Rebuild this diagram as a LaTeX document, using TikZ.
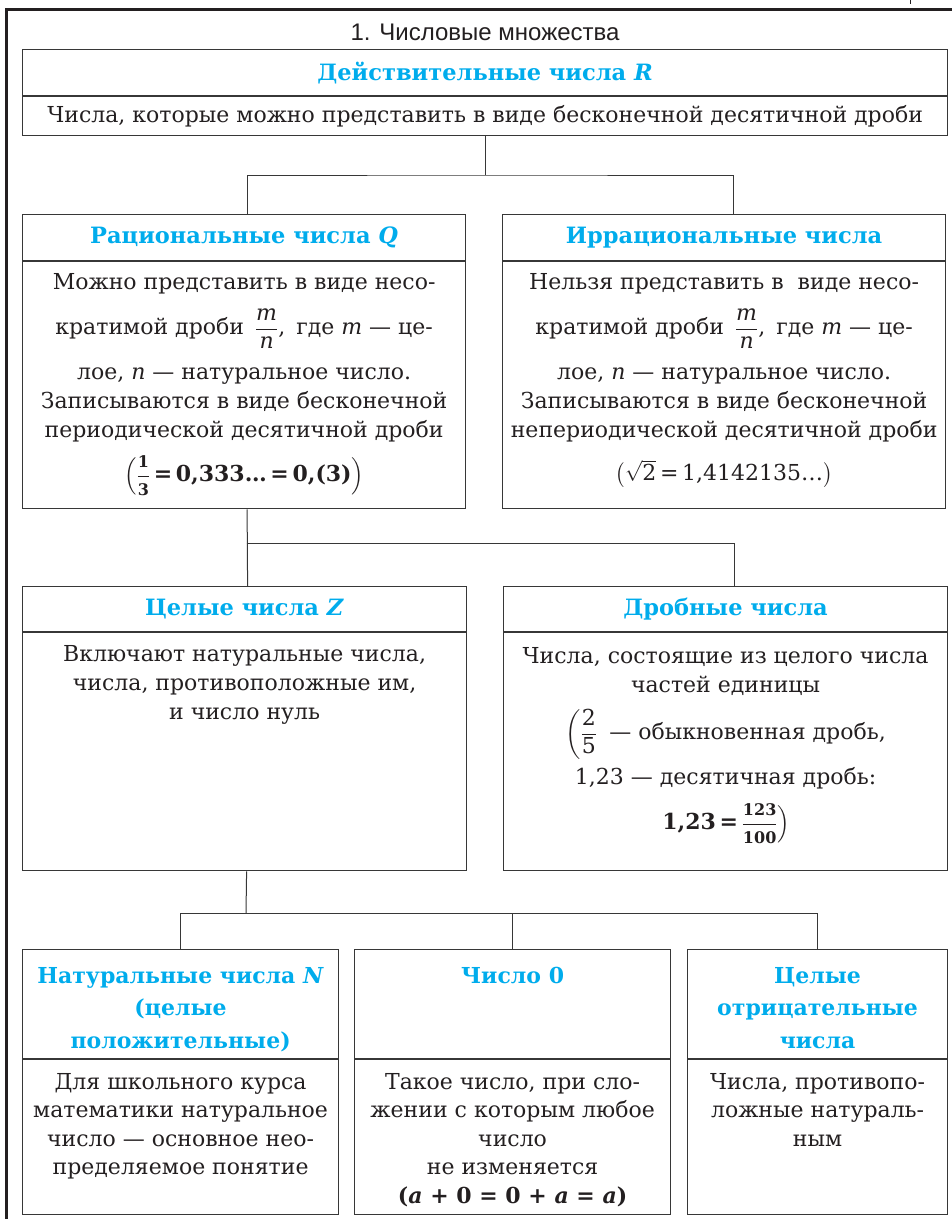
\documentclass[tikz,border=0pt]{standalone}
\usepackage{amsmath}
\usepackage{fontspec}
\setmainfont{DejaVu Serif}
\newfontfamily\titlefont{Liberation Sans}
\usetikzlibrary{calc}
\definecolor{hblue}{RGB}{0,172,236}
\definecolor{ink}{RGB}{35,31,32}
\definecolor{linec}{RGB}{55,55,55}
\newcommand\bodyfs{\fontsize{22}{29}\selectfont\lineskiplimit=-200pt\relax}
\newcommand\bodyfsb{\fontsize{22}{28.5}\selectfont\lineskiplimit=-200pt\relax}
\newcommand\hdrfs{\fontsize{22.5}{32}\selectfont\bfseries}
\newcommand\hdrsm{\fontsize{22}{32.5}\selectfont\bfseries}
\newcommand\smnum[1]{\text{\fontsize{16}{16}\selectfont #1}}
\tikzset{
  hbox/.style={draw=linec, line width=1.2pt, inner sep=0pt, anchor=north west, font=\hdrfs, text=hblue, align=center},
  bbox/.style={draw=linec, line width=1.2pt, inner sep=0pt, anchor=north west, font=\bodyfs, text=ink, align=center},
  txt/.style={inner sep=0pt, anchor=north, align=center, font=\bodyfs, text=ink},
  txtb/.style={inner sep=0pt, anchor=north, align=center, font=\bodyfsb, text=ink},
  htxt/.style={inner sep=0pt, anchor=north, align=center, font=\hdrsm, text=hblue},
  conn/.style={draw=linec, line width=1pt},
}
\begin{document}
\begin{tikzpicture}[x=1pt,y=-1pt]
\useasboundingbox (0,0) rectangle (952,1219);
% outer frame
\draw[ink, line width=3pt, line join=miter] (6,1219) -- (6,9) -- (952,9);
\draw[ink, line width=1pt] (910,0) -- (910,4);
\node[font=\titlefont\fontsize{24}{28}\selectfont, text=ink, inner sep=0pt] (title) at (485,32) {1. Числовые множества};

% Real numbers
\node[hbox, minimum width=925pt, minimum height=46pt] (rh) at (22,49) {Действительные числа \textit{R}};
\node[bbox, minimum width=925pt, minimum height=39pt] (rb) at (rh.south west) {Числа, которые можно представить в виде бесконечной десятичной дроби};

% Rational
\node[hbox, minimum width=443pt, minimum height=46pt] (qh) at (22,214) {Рациональные числа \textit{Q}};
\node[bbox, minimum width=443pt, minimum height=247pt] (qb) at (qh.south west) {};
\node[txt] (qt) at ([yshift=-12pt]qb.north) {Можно представить в виде несо-\\[16pt]
кратимой дроби\enspace$\dfrac{\text{\itshape m}}{\text{\itshape n}}$,\enspace где \textit{m} — це-\\[16pt]
лое, \textit{n} — натуральное число.\\
Записываются в виде бесконечной\\
периодической десятичной дроби\\[15pt]
{\bfseries$\left(\dfrac{\smnum{1}}{\smnum{3}}\text{\,=\,0,333…\,=\,0,(3)}\right)$}};

% Irrational
\node[hbox, minimum width=443pt, minimum height=46pt] (ih) at (502,214) {Иррациональные числа};
\node[bbox, minimum width=443pt, minimum height=247pt] (ib) at (ih.south west) {};
\node[txt] (it) at ([yshift=-12pt]ib.north) {Нельзя представить в \ виде несо-\\[16pt]
кратимой дроби\enspace$\dfrac{\text{\itshape m}}{\text{\itshape n}}$,\enspace где \textit{m} — це-\\[16pt]
лое, \textit{n} — натуральное число.\\
Записываются в виде бесконечной\\
непериодической десятичной дроби\\[14pt]
$\bigl(\sqrt{\text{2}}\text{\,=\,1,4142135…}\bigr)$};

% Integers
\node[hbox, minimum width=444pt, minimum height=45pt] (zh) at (22,586) {Целые числа \textit{Z}};
\node[bbox, minimum width=444pt, minimum height=238pt] (zb) at (zh.south west) {};
\node[txt] (zt) at ([yshift=-13pt]zb.north) {Включают натуральные числа,\\
числа, противоположные им,\\
и число нуль};

% Fractions
\node[hbox, minimum width=444pt, minimum height=45pt] (fh) at (503,586) {Дробные числа};
\node[bbox, minimum width=444pt, minimum height=238pt] (fb) at (fh.south west) {};
\node[txt] (ft) at ([yshift=-15pt]fb.north) {Числа, состоящие из целого числа\\
частей единицы\\[18pt]
$\left(\dfrac{\text{2}}{\text{5}}\right.$\enspace— обыкновенная дробь,\\[16pt]
1,23 — десятичная дробь:\\[16pt]
{\bfseries$\left.\text{1,23\,=\,}\dfrac{\smnum{123}}{\smnum{100}}\right)$}};

% Natural
\node[bbox, minimum width=316pt, minimum height=109pt] (nh) at (22,949) {};
\node[bbox, minimum width=316pt, minimum height=155pt] (nb) at (nh.south west) {};
\node[htxt] (nht) at ([yshift=-18pt]nh.north) {Натуральные числа \textit{N}\\(целые\\положительные)};
\node[txtb] (nt) at ([yshift=-14pt]nb.north) {Для школьного курса\\
математики натуральное\\
число — основное нео-\\
пределяемое понятие};

% Zero
\node[bbox, minimum width=316pt, minimum height=109pt] (oh) at (354,949) {};
\node[bbox, minimum width=316pt, minimum height=155pt] (ob) at (oh.south west) {};
\node[htxt] (oht) at ([yshift=-18pt]oh.north) {Число 0};
\node[txtb] (ot) at ([yshift=-14pt]ob.north) {Такое число, при сло-\\
жении с которым любое\\
число\\
не изменяется\\
{\bfseries (\textit{a} + 0 = 0 + \textit{a} = \textit{a})}};

% Negative
\node[bbox, minimum width=260pt, minimum height=109pt] (gh) at (687,949) {};
\node[bbox, minimum width=260pt, minimum height=155pt] (gb) at (gh.south west) {};
\node[htxt] (ght) at ([yshift=-18pt]gh.north) {Целые\\отрицательные\\числа};
\node[txtb] (gt) at ([yshift=-14pt]gb.north) {Числа, противопо-\\
ложные натураль-\\
ным};

% connectors
\coordinate (j1) at (484.5,175);
\draw[conn] (rb.south) -- (rb.south |- j1);
\draw[conn] ([xshift=3pt]qh.north) |- (j1) -| ([xshift=9.5pt]ih.north);
\coordinate (j2) at (246.5,543);
\draw[conn] ([xshift=3pt]qb.south) -- ([xshift=3pt]zh.north);
\draw[conn] (j2) -| ([xshift=9pt]fh.north);
\coordinate (j3) at (246,913);
\draw[conn] ([xshift=2pt]zb.south) -- (j3);
\draw[conn] (nh.north) |- (j3) -| (gh.north);
\draw[conn] (oh.north) -- (oh.north |- j3);
\end{tikzpicture}
\end{document}
